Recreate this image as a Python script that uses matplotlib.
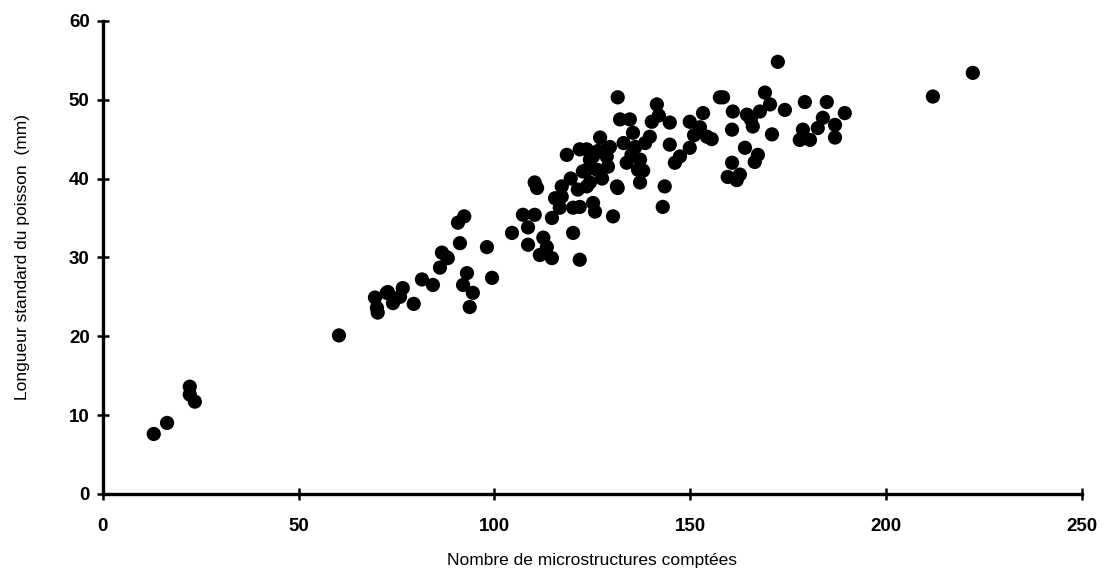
import matplotlib.pyplot as plt
import numpy as np

# nombre de microstructures comptées vs longueur standard (mm)
microstructures = [
    13.0, 16.4, 22.2, 22.2, 23.5, 60.3,
    69.5, 70.2, 70.0, 72.8, 74.1, 76.6, 75.9, 79.4, 81.5, 84.3, 86.1, 86.6,
    88.1, 90.7, 91.2, 92.3, 98.1, 87.9, 93.0, 92.0, 94.5, 93.7, 99.4, 72.5,
    110.9, 110.3, 104.5, 107.3, 110.3, 108.6, 108.6, 111.6, 114.7, 113.4,
    114.7, 116.7, 117.2, 117.2, 120.1, 121.8, 120.1, 121.3, 123.6, 125.2,
    125.7, 130.3, 131.3, 118.5, 122.6, 126.2, 124.4, 128.7,
    131.5, 132.1, 134.6, 127.0, 123.6, 121.8, 129.5, 135.4, 136.0, 137.2,
    133.8, 136.7, 125.2, 123.6, 124.4, 121.8, 131.5, 137.2, 143.5, 143.0,
    141.5, 140.2, 139.7, 144.8, 144.8, 146.1, 149.9, 153.3, 154.3, 149.9,
    147.4, 157.6, 160.9, 160.7, 160.7, 159.6, 161.9,
    172.4, 158.4, 169.1, 164.5, 167.8, 170.4, 174.2, 166.0, 170.9, 164.0,
    167.3, 166.5, 162.7, 179.3, 184.9, 189.5, 183.9, 187.0, 178.8, 178.0,
    180.6, 182.6, 187.0, 212.0, 222.2,
    151.0, 152.5, 155.5, 142.0, 138.5, 128.0, 119.5, 115.5,
    126.5, 129.0, 133.0, 135.0, 138.0, 127.5, 112.5, 165.5,
]
longueur = [
    7.6, 9.0, 13.6, 12.6, 11.7, 20.1,
    24.9, 23.0, 23.6, 25.6, 24.2, 26.1, 25.0, 24.1, 27.2, 26.5, 28.7, 30.6,
    29.9, 34.4, 31.8, 35.2, 31.3, 30.0, 28.0, 26.5, 25.5, 23.7, 27.4, 25.5,
    38.8, 39.5, 33.1, 35.4, 35.4, 33.8, 31.6, 30.3, 29.9, 31.3,
    35.0, 36.3, 39.0, 37.7, 33.1, 29.7, 36.3, 38.6, 39.0, 36.9,
    35.8, 35.2, 39.0, 43.0, 40.9, 41.1, 42.4, 42.8,
    50.3, 47.5, 47.5, 45.2, 43.7, 43.7, 44.0, 45.8, 44.0, 42.4,
    42.0, 41.1, 42.8, 41.1, 39.5, 36.4, 38.8, 39.5, 39.0, 36.4,
    49.4, 47.2, 45.3, 47.1, 44.3, 42.0, 47.2, 48.3, 45.3, 43.9,
    42.8, 50.3, 48.5, 46.2, 42.0, 40.2, 39.8,
    54.8, 50.3, 50.9, 48.1, 48.5, 49.4, 48.7, 46.6, 45.6, 43.9,
    43.0, 42.1, 40.5, 49.7, 49.7, 48.3, 47.7, 46.8, 46.2, 44.9,
    44.9, 46.4, 45.2, 50.4, 53.4,
    45.5, 46.5, 45.0, 48.0, 44.5, 43.5, 40.0, 37.5,
    43.5, 41.5, 44.5, 43.0, 41.0, 40.0, 32.5, 47.5,
]

xticks = [0, 50, 100, 150, 200, 250]
yticks = [0, 10, 20, 30, 40, 50, 60]

fig = plt.figure(figsize=(11.06, 5.79), dpi=100)
ax = fig.add_axes([0.093, 0.147, 0.885, 0.817])

ax.scatter(microstructures, longueur, s=105, marker='o', color='black',
           edgecolors='none', clip_on=False, zorder=3)

ax.set_xlim(0, 250)
ax.set_ylim(0, 60)
ax.set_xticks(xticks)
ax.set_yticks(yticks)

for side in ['top', 'right']:
    ax.spines[side].set_visible(False)
for side in ['left', 'bottom']:
    ax.spines[side].set_linewidth(2.4)
    ax.spines[side].set_color('black')

ax.tick_params(axis='both', direction='inout', length=9, width=1.8,
               colors='black')
ax.tick_params(axis='x', pad=13)
ax.tick_params(axis='y', pad=5)
for lab in ax.get_xticklabels() + ax.get_yticklabels():
    lab.set_fontfamily('Liberation Sans')
    lab.set_fontweight('bold')
    lab.set_fontsize(13.5)

ax.set_xlabel('Nombre de microstructures comptées', fontsize=12.5,
              family='Liberation Sans', labelpad=13)
ax.set_ylabel('Longueur standard du poisson  (mm)', fontsize=12.5,
              family='Liberation Sans', labelpad=28)

plt.savefig('out.png', dpi=100)
